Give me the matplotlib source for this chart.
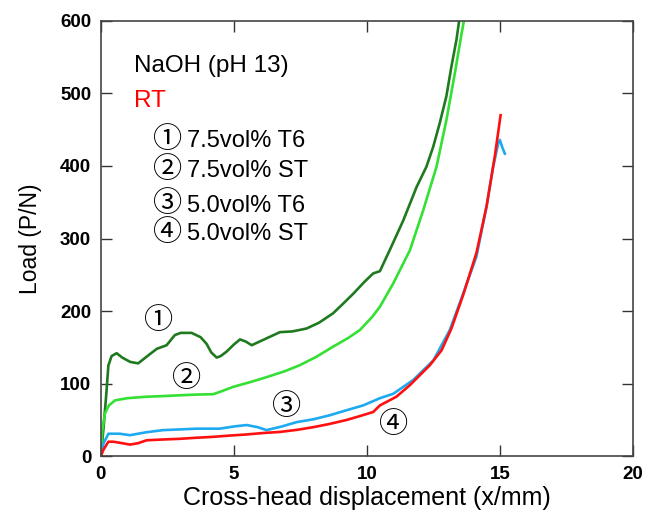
import matplotlib.pyplot as plt

# curves (x in mm, load in N)
x_t6_75 = [0, 0.1, 0.2, 0.28, 0.4, 0.59, 0.8, 1.1, 1.4, 1.78, 2.1, 2.47, 2.78, 3.0, 3.41,
           3.75, 3.97, 4.15, 4.35, 4.5, 4.72, 5.0, 5.23, 5.45, 5.67, 6.2, 6.73, 7.2,
           7.73, 8.2, 8.73, 9.1, 9.49, 9.9, 10.24, 10.49, 10.86, 11.37, 11.87, 12.24,
           12.5, 12.74, 12.99, 13.18, 13.37, 13.47]
y_t6_75 = [0, 40, 85, 125, 138, 142, 136, 130, 128, 139, 148, 153, 167, 170, 170,
           164, 155, 143, 136, 138, 144, 154, 161, 158, 153, 162, 171, 172,
           176, 184, 197, 210, 224, 240, 252, 255, 284, 325, 371, 399,
           427, 459, 496, 537, 574, 600]

x_st_75 = [0, 0.05, 0.15, 0.3, 0.53, 1.0, 1.72, 2.4, 2.97, 3.6, 4.22, 4.5, 4.97, 5.6, 6.23,
           6.9, 7.48, 8.1, 8.73, 9.3, 9.74, 10.2, 10.49, 10.99, 11.62, 12.12, 12.62,
           12.99, 13.31, 13.56, 13.65]
y_st_75 = [0, 35, 59, 70, 77, 80, 82, 83, 84, 85, 85.5, 89, 95.6, 102, 109,
           117, 125.5, 137, 151, 163, 174, 192, 206, 238, 284, 339, 399,
           463, 528, 582, 600]

x_t6_50 = [0, 0.1, 0.28, 0.71, 1.09, 1.7, 2.34, 3.0, 3.6, 4.47, 5.0, 5.48, 5.9, 6.23,
           6.8, 7.36, 8.0, 8.61, 9.2, 9.86, 10.49, 10.99, 11.74, 12.5, 13.12, 13.62,
           14.12, 14.5, 14.75, 14.94, 15.0, 15.1, 15.19]
y_t6_50 = [0, 18, 31, 31, 29, 33, 36, 37, 38, 38, 41, 43, 40, 36,
           41, 47, 51, 56.5, 63, 70, 80, 86, 105, 132, 174, 224,
           275, 344, 399, 431, 436, 425, 417]

x_st_50 = [0, 0.08, 0.28, 0.46, 0.8, 1.09, 1.4, 1.72, 2.3, 2.97, 3.6, 4.22, 4.85, 5.48,
           6.1, 6.73, 7.4, 7.98, 8.6, 9.24, 9.8, 10.24, 10.49, 11.11, 11.62, 12.37,
           12.81, 13.18, 13.62, 14.12, 14.5, 14.81, 15.03]
y_st_50 = [0, 8, 20, 20, 18, 16, 18, 22, 23, 24, 25.5, 26.7, 28.5, 30,
           32, 33.5, 36.5, 40, 44.5, 50, 56, 61, 70, 82, 98, 125.5,
           146, 176, 222, 280, 344, 413, 470]

marks = ["\u2460", "\u2461", "\u2462", "\u2463"]
legend_lines = ["7.5vol% T6", "7.5vol% ST", "5.0vol% T6", "5.0vol% ST"]
legend_y = [426, 385, 337, 298]
mark_x = [2.15, 3.22, 6.98, 10.99]
mark_y = [187, 107, 68, 43]

fam = ["Liberation Sans", "Noto Sans CJK JP", "DejaVu Sans"]
plt.rcParams["font.family"] = fam
circ = ["Noto Sans CJK JP", "DejaVu Sans"]

fig = plt.figure(figsize=(6.47, 5.22), dpi=100)
ax = fig.add_axes([0.156, 0.126, 0.822, 0.834])

ax.plot(x_t6_75, y_t6_75, color="#1f7a1f", lw=1.9)
ax.plot(x_st_75, y_st_75, color="#33e033", lw=1.9)
ax.plot(x_t6_50, y_t6_50, color="#1eaaf0", lw=1.9)
ax.plot(x_st_50, y_st_50, color="#ff1010", lw=1.9)

ax.set_xlim(0, 20)
ax.set_ylim(0, 600)
ax.set_xticks([0, 5, 10, 15, 20])
ax.set_yticks([0, 100, 200, 300, 400, 500, 600])
ax.tick_params(direction="in", length=8, width=1, top=True, right=True,
               labelsize=13.5, color="#333333", pad=7)
for lab in ax.get_xticklabels() + ax.get_yticklabels():
    lab.set_fontweight("bold")
for sp in ax.spines.values():
    sp.set_color("#444444")
    sp.set_linewidth(1.2)

ax.set_xlabel("Cross-head displacement (x/mm)", fontsize=18, labelpad=2)
ax.set_ylabel("Load (P/N)", fontsize=16.5, labelpad=13)

ax.text(1.24, 530, "NaOH (pH 13)", fontsize=17.5, va="baseline")
ax.text(1.24, 481, "RT", fontsize=17.5, color="red", va="baseline")
for i, s in enumerate(legend_lines):
    ax.text(1.95, legend_y[i] + 10, marks[i], fontsize=21, family=circ, va="center")
    ax.text(3.23, legend_y[i], s, fontsize=17, va="baseline")

for i in range(4):
    ax.text(mark_x[i], mark_y[i], marks[i], fontsize=21, family=circ,
            ha="center", va="center")

fig.savefig("out.png", dpi=100)
